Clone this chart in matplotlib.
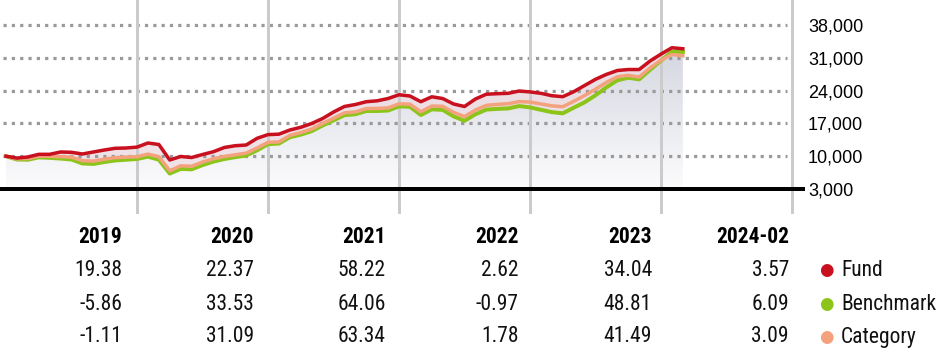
import numpy as np
import matplotlib
matplotlib.use("Agg")
import matplotlib.pyplot as plt
from matplotlib.colors import LinearSegmentedColormap
import matplotlib.transforms as mtrans


# -----------------------------------------------------------
# Data (growth of 10,000, month-end values Dec 2018 - Feb 2024)
# -----------------------------------------------------------

fund = [
    10000, 9600, 9830, 10400, 10400, 10900, 10830, 10470, 10900, 11320, 11690, 11750,
    11938, 12820, 12500, 9190, 9940, 9720, 10360, 10960, 11860, 12240, 12390, 13820,
    14609, 14700, 15590, 16170, 16980, 18040, 19430, 20610, 21030, 21630, 21820, 22310,
    23114, 22850, 21630, 22680, 22310, 21140, 20610, 22210, 23230, 23340, 23420, 23910,
    23720, 23420, 22910, 22700, 23760, 25090, 26410, 27460, 28290, 28500, 28500, 30320,
    31794, 33150, 32929,
]
benchmark = [
    10000, 9300, 9250, 9750, 9650, 9500, 9300, 8450, 8350, 8750, 9100, 9250,
    9414, 9900, 9250, 6300, 7300, 7200, 8100, 8850, 9400, 9800, 10150, 11250,
    12570, 12700, 14050, 14600, 15350, 16550, 17650, 18750, 18950, 19650, 19650, 19750,
    20623, 20550, 18800, 20000, 19900, 18500, 17550, 18950, 19950, 20100, 20200, 20700,
    20423, 19900, 19400, 19150, 20350, 21500, 23000, 24700, 26200, 26750, 26400, 28450,
    30391, 32300, 32242,
]
category = [
    10000, 9450, 9500, 10000, 9980, 9900, 9800, 9050, 8950, 9350, 9700, 9800,
    9889, 10450, 9900, 6900, 7950, 7850, 8750, 9450, 9950, 10300, 10650, 11750,
    12964, 13050, 14450, 15050, 15800, 17000, 18100, 19250, 19450, 20150, 20200, 20300,
    21175, 21100, 19500, 20700, 20650, 19350, 18450, 19850, 20850, 21050, 21200, 21650,
    21552, 21150, 20750, 20550, 21700, 22950, 24300, 25750, 26950, 27250, 26900, 28850,
    30494, 31700, 31436,
]

y_ticks = [3000, 10000, 17000, 24000, 31000, 38000]
year_marks = [12, 24, 36, 48, 60, 72]   # month index of each Jan boundary

col_headers = ["2019", "2020", "2021", "2022", "2023", "2024-02"]
row_names = ["Fund", "Benchmark", "Category"]
returns = [
    ["19.38", "22.37", "58.22", "2.62", "34.04", "3.57"],
    ["-5.86", "33.53", "64.06", "-0.97", "48.81", "6.09"],
    ["-1.11", "31.09", "63.34", "1.78", "41.49", "3.09"],
]

# -----------------------------------------------------------
# Style
# -----------------------------------------------------------

c_fund = "#c8101e"
c_bench = "#8cc41a"
c_cat = "#f4a27e"
row_colors = [c_fund, c_bench, c_cat]

W, H = 943, 358
px = 72 / 100  # points per pixel at dpi 100

table_font = ["Roboto Condensed", "Liberation Sans Narrow", "DejaVu Sans"]
axis_font = ["Liberation Sans", "DejaVu Sans"]

fig = plt.figure(figsize=(W / 100, H / 100), dpi=100)

# main axes spans pixel x 0..792, y 0..212
ax = fig.add_axes([0, 1 - 212 / H, 792 / W, 212 / H])
ax.set_xlim(-0.55, 72)
ax.set_ylim(-1908, 43335)
for s in ax.spines.values():
    s.set_visible(False)
ax.set_xticks([])

x = np.arange(len(fund))
fund_a = np.array(fund)
bench_a = np.array(benchmark)
cat_a = np.array(category)
low = np.minimum(bench_a, cat_a)

# gradient fill under the fund line
top = fund_a.max()
grad = np.linspace(1, 0, 256).reshape(-1, 1)
cmap = LinearSegmentedColormap.from_list("g", ["#fcfcfd", "#d4d6e0"])
im = ax.imshow(grad, aspect="auto", cmap=cmap, extent=[0, len(fund) - 1, 3000, top],
               origin="upper", zorder=1)
poly = ax.fill_between(x, 3000, fund_a, color="none", lw=0)
im.set_clip_path(poly.get_paths()[0], transform=ax.transData)
ax.fill_between(x, low, fund_a, color="#efdde2", lw=0, alpha=0.8, zorder=1.5)

# dotted grid lines
for v in y_ticks[1:]:
    ax.axhline(v, xmin=0.004, xmax=0.994, color="#9a9a9a", lw=3.2 * px,
               dashes=(1, 1.6), dash_capstyle="butt", zorder=2)

# year separators
for m in year_marks:
    ax.axvline(m, color="#cbcbcb", lw=3 * px, zorder=2.5, clip_on=False)

# baseline
trans = mtrans.blended_transform_factory(ax.transAxes, ax.transData)
ax.plot([0, 805 / 792], [3000, 3000], color="black", lw=4 * px,
        transform=trans, clip_on=False, zorder=3, solid_capstyle="butt")

ax.plot(x, bench_a, color=c_bench, lw=4 * px, zorder=4, solid_joinstyle="round")
ax.plot(x, cat_a, color=c_cat, lw=3.5 * px, zorder=4.5, solid_joinstyle="round")
ax.plot(x, fund_a, color=c_fund, lw=3.5 * px, zorder=5, solid_joinstyle="round")

ax.yaxis.tick_right()
ax.set_yticks(y_ticks)
ax.set_yticklabels([f"{v:,}" for v in y_ticks], family=axis_font, fontsize=13)
ax.tick_params(axis="y", length=0, pad=16 * px)

# -----------------------------------------------------------
# Returns table
# -----------------------------------------------------------

col_right = [122, 254, 386, 519, 652, 789]
row_y = [270, 304, 337]
header_y = 237

def fx(p):
    return p / W

def fy(p):
    return 1 - p / H

for j, h in enumerate(col_headers):
    fig.text(fx(col_right[j]), fy(header_y), h, ha="right", va="center",
             family=table_font, fontweight="bold", fontsize=15.5, color="black")

for i, row in enumerate(returns):
    for j, val in enumerate(row):
        fig.text(fx(col_right[j]), fy(row_y[i]), val, ha="right", va="center",
                 family=table_font, fontsize=15.5, color="#111111")
    fig.text(fx(826), fy(row_y[i]), "\u25cf", ha="center", va="center",
             family=["DejaVu Sans"], fontsize=12, color=row_colors[i])
    fig.text(fx(841), fy(row_y[i]), row_names[i], ha="left", va="center",
             family=table_font, fontsize=15.5, color="#111111")

fig.savefig("out.png", dpi=100)
